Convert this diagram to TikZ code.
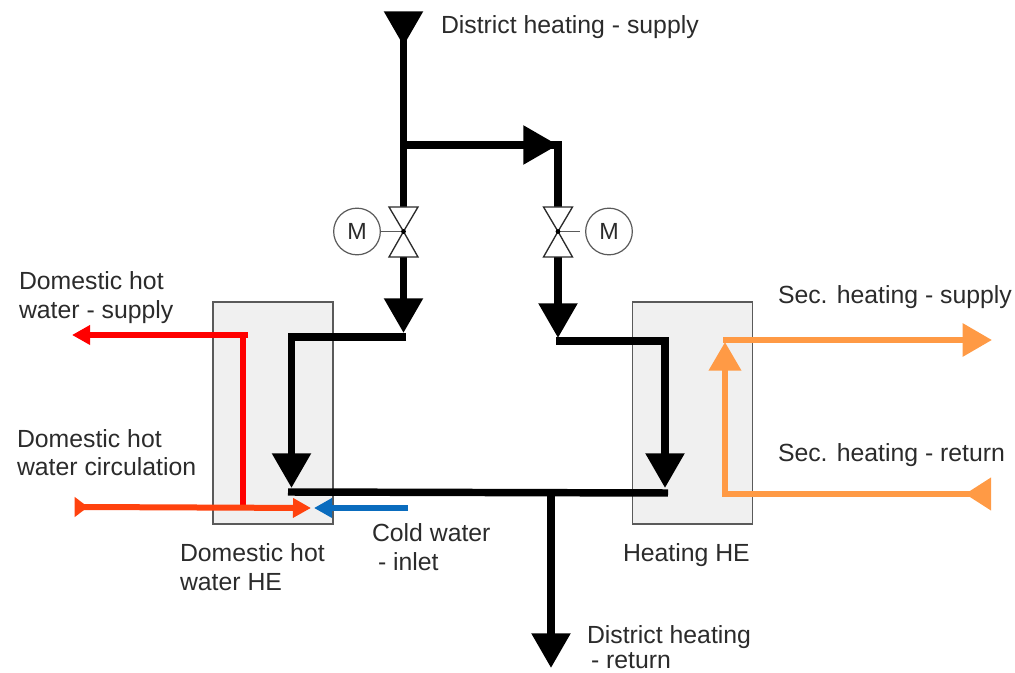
\documentclass[tikz,border=0pt]{standalone}
\usepackage{fontspec}
\setmainfont{Liberation Sans}
\usetikzlibrary{arrows.meta}
\definecolor{txt}{HTML}{2B2B2B}
\definecolor{boxfill}{HTML}{F0F0F0}
\definecolor{boxline}{HTML}{5A5A5A}
\definecolor{hotred}{HTML}{FF0000}
\definecolor{circred}{HTML}{FF420E}
\definecolor{coldblue}{HTML}{0A6CBE}
\definecolor{secorange}{HTML}{FF9A45}
\tikzset{
  x=0.75pt,y=-0.75pt,
  label text/.style={anchor=base west,inner sep=0pt,outer sep=0pt,text=txt,font=\fontsize{18.6pt}{21.6pt}\selectfont},
  hebox/.style={draw=boxline,fill=boxfill,line width=1.2pt,inner sep=0pt,minimum width=90pt,minimum height=166.5pt},
  pipe/.style={line width=5.6pt,draw=black,line join=miter,line cap=butt},
  redpipe/.style={line width=4.5pt,draw=hotred,line join=miter},
  circpipe/.style={line width=4.5pt,draw=circred},
  bluepipe/.style={line width=4.2pt,draw=coldblue},
  orangepipe/.style={line width=4.5pt,draw=secorange,line join=miter},
  bighead/.style={-{Triangle[length=26pt,width=28pt]}},
  midhead/.style={-{Triangle[length=22pt,width=24pt]}},
  smallhead/.style={-{Triangle[length=13.5pt,width=14pt]}},
  tailhead/.style={-{Triangle[length=10pt,width=14.5pt]}},
  motor/.style={circle,draw=boxline,fill=white,line width=0.9pt,minimum size=35pt,inner sep=0pt,text=txt,font=\fontsize{17.5pt}{18pt}\selectfont},
  valvepart/.style={draw=txt,fill=white,line width=1pt,line join=miter},
  stem/.style={draw=boxline,line width=1pt},
}
\begin{document}
\begin{tikzpicture}
\useasboundingbox (0,0) rectangle (1015,673);
% heat exchangers
\node[hebox] (heL) at (273,413) {};
\node[hebox] (heR) at (692.5,413) {};
% coordinates
\coordinate (topbase) at (403.5,12);
\coordinate (toptip) at (403.5,46);
\coordinate (topin) at (403.5,30);
\coordinate (tee) at (403.5,145);
\coordinate (branchin) at (535,145);
\coordinate (branchtip) at (558,145);
\coordinate (branchcorner) at (558,141.3);
\coordinate (valveL) at (403.5,231.5);
\coordinate (valveR) at (558,231.5);
\coordinate (valveLb) at (403.5,257);
\coordinate (valveRb) at (558,257);
\coordinate (valveLt) at (403.5,207);
\coordinate (valveRt) at (558,207);
\coordinate (tipL) at (403.5,333);
\coordinate (tipR) at (558,338);
\coordinate (cornerLend) at (406,337);
\coordinate (cornerL) at (291.5,337);
\coordinate (cornerR) at (665,341);
\coordinate (cornerRstart) at (556,341);
\coordinate (heLtip) at (291.5,488);
\coordinate (heRtip) at (665,488);
\coordinate (heLin) at (291.5,470);
\coordinate (heRin) at (665,470);
\coordinate (botL) at (288,492);
\coordinate (botR) at (668,493);
\coordinate (botmid) at (551,492.5);
\coordinate (rettip) at (551,668);
% black pipes
\draw[pipe,bighead] (topbase) -- (toptip);
\draw[pipe] (topin) -- (valveLt);
\draw[pipe,bighead] (tee) -- (branchtip);
\draw[pipe] (branchin) -- (branchtip);
\draw[pipe] (branchcorner) -- (valveRt);
\draw[pipe,bighead] (valveLb) -- (tipL);
\draw[pipe,bighead] (valveRb) -- (tipR);
\draw[pipe] (cornerLend) -- (cornerL) -- (heLin);
\draw[pipe,bighead] (cornerL) -- (heLtip);
\draw[pipe] (cornerRstart) -- (cornerR) -- (heRin);
\draw[pipe,bighead] (cornerR) -- (heRtip);
\draw[pipe] (botL) -- (botR);
\draw[pipe,bighead] (botmid) -- (rettip);
% valves and motors
\draw[valvepart] (valveL) -- ++(-14.5,-24.5) -- ++(29,0) -- cycle;
\draw[valvepart] (valveL) -- ++(-14.5,25.5) -- ++(29,0) -- cycle;
\draw[valvepart] (valveR) -- ++(-14.5,-24.5) -- ++(29,0) -- cycle;
\draw[valvepart] (valveR) -- ++(-14.5,25.5) -- ++(29,0) -- cycle;
\node[motor] (mL) at (357,231.5) {M};
\node[motor] (mR) at (609,231.5) {M};
\coordinate (stemR) at (580,231.5);
\draw[stem] (mL) -- (valveL);
\draw[stem] (valveR) -- (stemR);
\fill[black] (valveL) circle (1.8pt);
\fill[black] (valveR) circle (1.8pt);
% domestic hot water
\coordinate (redend) at (248,335);
\coordinate (redcorner) at (243,335);
\coordinate (redtip) at (72,335);
\coordinate (redbottom) at (243,507);
\coordinate (circstart) at (75,507);
\coordinate (circhead) at (88,507);
\coordinate (circin) at (82,507);
\coordinate (circtip) at (311,508);
\coordinate (bluestart) at (408,508);
\coordinate (bluetip) at (314,508);
\draw[redpipe,smallhead] (redend) -- (redtip);
\draw[redpipe] (redcorner) -- (redbottom);
\draw[circpipe,tailhead] (circstart) -- (circhead);
\draw[circpipe,smallhead] (circin) -- (circtip);
\draw[bluepipe,smallhead] (bluestart) -- (bluetip);
% secondary heating
\coordinate (secstart) at (723,340);
\coordinate (sectip) at (992,340);
\coordinate (retstart) at (991,494);
\coordinate (rethead) at (965,494);
\coordinate (retin) at (975,494);
\coordinate (seccorner) at (725,494);
\coordinate (secup) at (725,342);
\coordinate (secupin) at (725,360);
\draw[orangepipe,midhead] (secstart) -- (sectip);
\draw[orangepipe,{Triangle[length=19.5pt,width=23.5pt]}-] (rethead) -- (retstart);
\draw[orangepipe] (retin) -- (seccorner) -- (secupin);
\draw[orangepipe,-{Triangle[length=21.5pt,width=23.5pt]}] (seccorner) -- (secup);
% labels
\node[label text] (t1) at (441,34) {District heating - supply};
\node[label text] (t2) at (19,290) {Domestic hot};
\node[label text] (t3) at (19,319) {water - supply};
\node[label text] (t4) at (17,448) {Domestic hot};
\node[label text] (t5) at (17,476) {water circulation};
\node[label text] (t6) at (180,562) {Domestic hot};
\node[label text] (t7) at (180,591) {water HE};
\node[label text] (t8) at (372,542) {Cold water};
\node[label text] (t9) at (378,571) {- inlet};
\node[label text] (t10) at (623,562) {Heating HE};
\node[label text] (t11) at (778,304) {Sec. heating - supply};
\node[label text] (t12) at (778,462) {Sec. heating - return};
\node[label text] (t13) at (587,643) {District heating};
\node[label text] (t14) at (591,668) {- return};
\end{tikzpicture}
\end{document}
